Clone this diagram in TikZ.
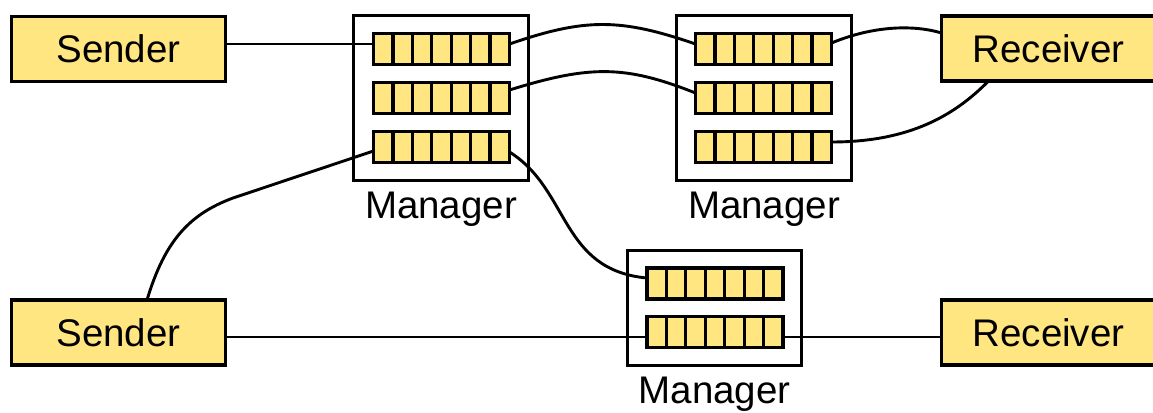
\documentclass[tikz,border=0pt]{standalone}
\usepackage{fontspec}
\setmainfont{Liberation Sans}
\usetikzlibrary{calc}
\definecolor{qyellow}{RGB}{255,230,128}
\begin{document}
\begin{tikzpicture}[x=1pt,y=-1pt,
  every node/.style={font=\fontsize{38.5}{40}\selectfont},
  endbox/.style={draw, line width=3.2pt, fill=qyellow, minimum width=214pt, minimum height=65pt, inner sep=0pt, outer sep=0pt},
  mgr/.style={draw, line width=3.2pt, fill=white, inner sep=0pt, outer sep=0pt},
  queue/.style={draw, line width=3.2pt, fill=qyellow, minimum width=136pt, minimum height=31pt, inner sep=0pt, outer sep=0pt},
  mlabel/.style={anchor=base, inner sep=0pt},
  link/.style={line width=2.9pt},
  divider/.style={line width=3.2pt}]
\useasboundingbox (0,0) rectangle (1153,412);

% manager frames
\node[mgr, minimum width=175pt, minimum height=165pt] (m1) at (441,98) {};
\node[mgr, minimum width=175pt, minimum height=165pt] (m2) at (764,98) {};
\node[mgr, minimum width=174pt, minimum height=115pt] (m3) at (714.5,308) {};

% queues
\node[queue] (q11) at (441.5,49) {};
\node[queue] (q12) at (441.5,98) {};
\node[queue] (q13) at (441.5,147) {};
\node[queue] (q21) at (763.5,49) {};
\node[queue] (q22) at (763.5,98) {};
\node[queue] (q23) at (763.5,147) {};
\node[queue] (q31) at (715,283.5) {};
\node[queue] (q32) at (715,332) {};
\foreach \q in {q11,q12,q13,q21,q22,q23,q31,q32} {
  \foreach \i in {1,...,6} {
    \draw[divider] ($(\q.north west)!\i/7!(\q.north east)$) -- ($(\q.south west)!\i/7!(\q.south east)$);
  }
}

% labels
\node[mlabel] (l1) at (441,218) {Manager};
\node[mlabel] (l2) at (764,218) {Manager};
\node[mlabel] (l3) at (714.5,403) {Manager};

% senders and receivers
\node[endbox] (s1) at (118.5,49) {Sender};
\node[endbox] (r1) at (1048.5,48.5) {Receiver};
\node[endbox] (s2) at (118.5,332.5) {Sender};
\node[endbox] (r2) at (1048.5,332.5) {Receiver};

% connectors
\draw[link] ([yshift=5pt]s1.east) -- ([yshift=5pt]q11.west);
\draw[link] ([yshift=5pt]q11.east) .. controls (585,18) and (620,18) .. ([yshift=5pt]q21.west);
\draw[link] ([yshift=8pt]q12.east) .. controls (590,65) and (625,65) .. ([yshift=5pt]q22.west);
\draw[link] ([yshift=6pt]q21.east) .. controls (875,25) and (915,25) .. ([yshift=15.5pt]r1.west);
\draw[link] ([yshift=5pt]q23.east) .. controls (910,142) and (955,115) .. ([xshift=-60pt]r1.south);
\draw[link] ([xshift=28.5pt]s2.north) .. controls (165,240) and (190,214) .. (233,198) -- ([yshift=-4pt]q13.west);
\draw[link] ([yshift=-5pt]q13.east) .. controls (570,190) and (560,270) .. ([yshift=5.5pt]q31.west);
\draw[link] ([yshift=-4.5pt]s2.east) -- ([yshift=-5pt]q32.west);
\draw[link] ([yshift=-5pt]q32.east) -- ([yshift=-4.5pt]r2.west);
\end{tikzpicture}
\end{document}
